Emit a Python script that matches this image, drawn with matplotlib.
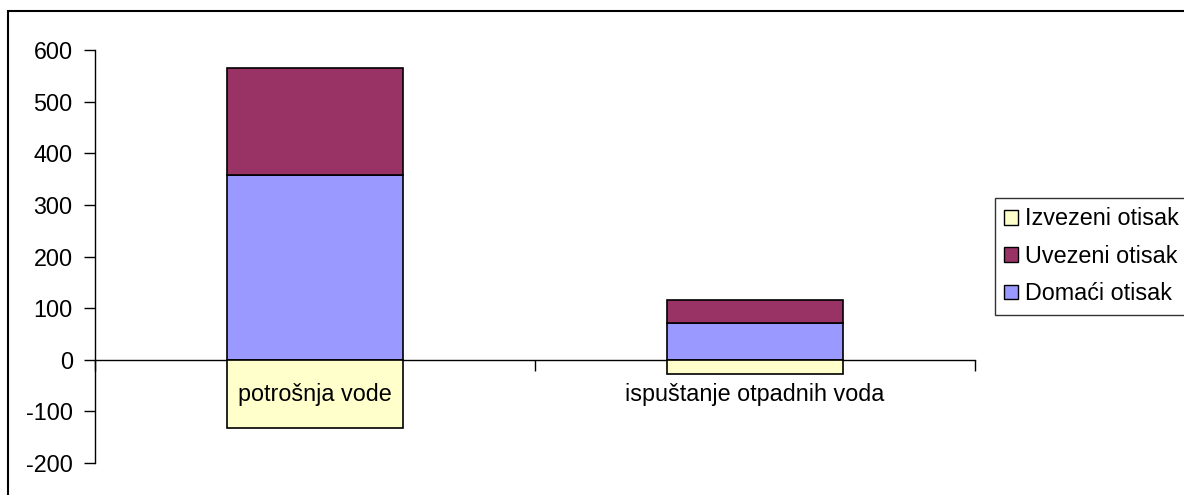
import matplotlib
matplotlib.use("Agg")
import matplotlib.pyplot as plt
from matplotlib.patches import Rectangle, Patch

categories = ["potrošnja vode", "ispuštanje otpadnih voda"]
domaci = [358, 72]
uvezeni = [207, 44]
izvezeni = [-132, -27]
yticks = [-200, -100, 0, 100, 200, 300, 400, 500, 600]

c_dom = "#9999FF"
c_uv = "#993366"
c_iz = "#FFFFCC"

plt.rcParams['font.family'] = ['Liberation Sans', 'DejaVu Sans']
fs = 16.8

fig = plt.figure(figsize=(11.84, 4.95), dpi=100)
ax = fig.add_axes([95/1184, 1-463/495, (975-95)/1184, (463-50)/495])

x = list(range(len(categories)))
w = 0.4
ax.bar(x, domaci, width=w, color=c_dom, edgecolor="black", linewidth=1.2, zorder=3)
ax.bar(x, uvezeni, width=w, bottom=domaci, color=c_uv, edgecolor="black", linewidth=1.2, zorder=3)
ax.bar(x, izvezeni, width=w, color=c_iz, edgecolor="black", linewidth=1.2, zorder=3)

ax.set_xlim(-0.5, len(categories) - 0.5)
ax.set_ylim(-200, 600)
ax.set_yticks(yticks)
ax.set_yticklabels([str(v) for v in yticks], fontsize=fs)
ax.tick_params(axis='y', length=8, width=1, pad=8)

ax.spines['top'].set_visible(False)
ax.spines['right'].set_visible(False)
ax.spines['bottom'].set_position(('data', 0))
ax.spines['bottom'].set_linewidth(1)
ax.spines['left'].set_linewidth(1)
ax.spines['bottom'].set_zorder(2)
ax.set_xticks([i - 0.5 for i in range(len(categories) + 1)])
ax.set_xticklabels([])
ax.tick_params(axis='x', length=8, width=1, direction='out')

for i, c in enumerate(categories):
    ax.text(i, -46, c, ha='center', va='top', fontsize=fs, zorder=5,
            transform=ax.transData)

# outer frame of chart area
fig.patches.append(Rectangle((8/1184, -0.05), 1.2, 1 - 11/495 + 0.05,
                             transform=fig.transFigure, fill=False,
                             edgecolor='black', linewidth=1.5))

handles = [Patch(facecolor=c_iz, edgecolor='black', label="Izvezeni otisak"),
           Patch(facecolor=c_uv, edgecolor='black', label="Uvezeni otisak"),
           Patch(facecolor=c_dom, edgecolor='black', label="Domaći otisak")]
leg = fig.legend(handles=handles, loc='upper left',
                 bbox_to_anchor=(995/1184, 1 - 198/495),
                 fontsize=fs, frameon=True, fancybox=False,
                 handlelength=0.6, handleheight=0.6, handletextpad=0.3,
                 labelspacing=0.62, borderpad=0.4, borderaxespad=0)
leg.get_frame().set_edgecolor('black')
leg.get_frame().set_linewidth(1)

fig.savefig("out.png", dpi=100)
